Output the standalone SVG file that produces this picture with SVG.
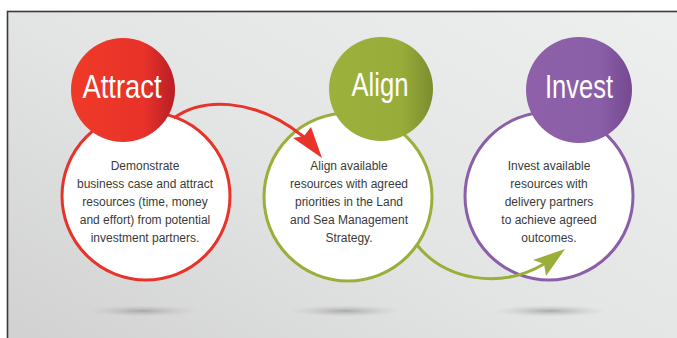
<svg xmlns="http://www.w3.org/2000/svg" width="677" height="338" viewBox="0 0 677 338">
<defs>
<linearGradient id="bg" x1="0" y1="1" x2="1" y2="0">
<stop offset="0" stop-color="#cdcdcd"/>
<stop offset="0.5" stop-color="#e3e4e4"/>
<stop offset="1" stop-color="#eeefef"/>
</linearGradient>
<linearGradient id="gRed" x1="0" y1="0" x2="1" y2="0">
<stop offset="0" stop-color="#ef3a28"/>
<stop offset="0.7" stop-color="#e8322a"/>
<stop offset="1" stop-color="#b81e27"/>
</linearGradient>
<linearGradient id="gGreen" x1="0" y1="0" x2="1" y2="0">
<stop offset="0" stop-color="#9cb03c"/>
<stop offset="0.7" stop-color="#98ac3a"/>
<stop offset="1" stop-color="#7b8d2e"/>
</linearGradient>
<linearGradient id="gPurple" x1="0" y1="0" x2="1" y2="0">
<stop offset="0" stop-color="#8e60aa"/>
<stop offset="0.7" stop-color="#8b5ea8"/>
<stop offset="1" stop-color="#74498f"/>
</linearGradient>
<radialGradient id="shadow" cx="0.5" cy="0.5" r="0.5">
<stop offset="0" stop-color="#9a9a9a" stop-opacity="0.8"/>
<stop offset="1" stop-color="#c8c8c8" stop-opacity="0"/>
</radialGradient>
</defs>
<style>
.head{font-family:"Liberation Sans",Arial,sans-serif;font-size:34px;fill:#ffffff;text-anchor:middle}
.body{font-family:"Liberation Sans",Arial,sans-serif;font-size:12px;fill:#3a3a3a;text-anchor:middle}
.ring{fill:#ffffff;stroke-width:3}
.conn{fill:none;stroke-width:3}
</style>
<rect x="7.5" y="11.5" width="700" height="400" fill="url(#bg)" stroke="#3a3a3a" stroke-width="1.6"/>
<ellipse cx="142" cy="311" rx="58" ry="6" fill="url(#shadow)"/>
<ellipse cx="345" cy="311" rx="58" ry="6" fill="url(#shadow)"/>
<ellipse cx="550" cy="311" rx="58" ry="6" fill="url(#shadow)"/>

<g id="attract">
<circle class="ring" cx="146" cy="196" r="84" stroke="#e8332a"/>
<circle cx="123" cy="90" r="52" fill="url(#gRed)"/>
<text class="head" x="122" y="98" textLength="79" lengthAdjust="spacingAndGlyphs">Attract</text>
<text class="body" x="145" y="170">Demonstrate</text>
<text class="body" x="145" y="188">business case and attract</text>
<text class="body" x="145" y="206">resources (time, money</text>
<text class="body" x="145" y="224">and effort) from potential</text>
<text class="body" x="145" y="242">investment partners.</text>
</g>

<g id="align">
<circle class="ring" cx="348" cy="197" r="84" stroke="#9aae3a"/>
<circle cx="381" cy="89" r="52" fill="url(#gGreen)"/>
<text class="head" x="380" y="96" textLength="57" lengthAdjust="spacingAndGlyphs">Align</text>
<text class="body" x="349" y="170">Align available</text>
<text class="body" x="349" y="188">resources with agreed</text>
<text class="body" x="349" y="206">priorities in the Land</text>
<text class="body" x="349" y="224">and Sea Management</text>
<text class="body" x="349" y="242">Strategy.</text>
</g>

<g id="invest">
<circle class="ring" cx="549" cy="196" r="84" stroke="#8b5ea8"/>
<circle cx="579" cy="90" r="53" fill="url(#gPurple)"/>
<text class="head" x="579" y="98" textLength="68" lengthAdjust="spacingAndGlyphs">Invest</text>
<text class="body" x="549" y="170">Invest available</text>
<text class="body" x="549" y="188">resources with</text>
<text class="body" x="549" y="206">delivery partners</text>
<text class="body" x="549" y="224">to achieve agreed</text>
<text class="body" x="549" y="242">outcomes.</text>
</g>

<g id="connectors">
<path class="conn" stroke="#e8332a" d="M174,118 C200,99 252,95 304,137"/>
<path fill="#e8332a" d="M322,158 L293,138 L304,136 L311,127 Z"/>
<path class="conn" stroke="#9aae3a" d="M417,245 C445,280 500,290 544,264"/>
<path fill="#9aae3a" d="M565,249 L533,260 L544,264 L546,276 Z"/>
</g>
</svg>
